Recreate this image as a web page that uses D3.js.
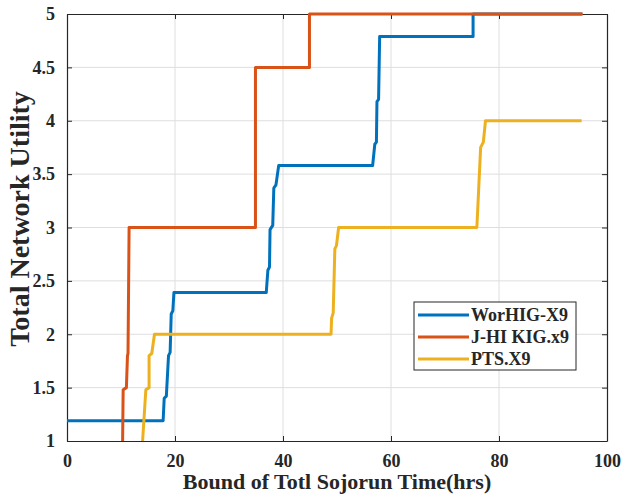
<!DOCTYPE html>
<html>
<head>
<meta charset="utf-8">
<script src="https://cdn.jsdelivr.net/npm/d3@7"></script>
<style>
  body { margin: 0; background: #fff; }
  svg text { font-family: "Liberation Serif", "Times New Roman", serif; font-weight: bold; fill: #262626; }
</style>
</head>
<body>
<div id="chart"></div>
<script>
var seriesNames = ["WorHIG-X9", "J-HI KIG.x9", "PTS.X9"]
var seriesColors = ["#0072BD", "#D95319", "#EDB120"]

var worX = [0, 17.8, 18.0, 18.4, 18.8, 19.1, 19.3, 19.6, 19.8, 36.9, 37.2, 37.5, 37.6, 38.1, 38.3, 38.7, 39.2, 56.6, 57.0, 57.3, 57.4, 57.7, 57.9, 75.2, 75.2, 95.4]
var worY = [1.19, 1.19, 1.4, 1.42, 1.8, 1.83, 2.19, 2.22, 2.39, 2.39, 2.6, 2.63, 2.98, 3.02, 3.37, 3.4, 3.58, 3.58, 3.78, 3.8, 4.18, 4.2, 4.79, 4.79, 5, 5]

var jhiX = [10.3, 10.4, 11.0, 11.2, 11.3, 11.5, 34.9, 34.9, 44.9, 44.9, 95.5]
var jhiY = [1, 1.48, 1.5, 1.8, 1.82, 3, 3, 4.5, 4.5, 5, 5]

var ptsX = [14.0, 14.6, 15.2, 15.2, 15.7, 16.2, 48.9, 49.0, 49.3, 49.6, 49.9, 50.3, 75.9, 76.6, 77.1, 77.5, 95.3]
var ptsY = [1, 1.48, 1.5, 1.8, 1.82, 2, 2, 2.15, 2.2, 2.8, 2.83, 3, 3, 3.75, 3.8, 4, 4]

var xTicks = [0, 20, 40, 60, 80, 100]
var yTicks = [1, 1.5, 2, 2.5, 3, 3.5, 4, 4.5, 5]

var width = 625, height = 503
var margin = {top: 14, right: 18, bottom: 62, left: 67}
var w = width - margin.left - margin.right,
    h = height - margin.top - margin.bottom

var svg = d3.select('#chart').append('svg')
    .attr('width', width)
    .attr('height', height)

var g = svg.append('g')
    .attr('transform', 'translate(' + margin.left + ',' + margin.top + ')')

var x = d3.scaleLinear().domain([0, 100]).range([0, w]),
    y = d3.scaleLinear().domain([1, 5]).range([h, 0])

// grid
g.append('g').selectAll('line').data(xTicks.slice(1, -1)).enter().append('line')
    .attr('x1', function(d) { return x(d) }).attr('x2', function(d) { return x(d) })
    .attr('y1', 0).attr('y2', h)
    .attr('stroke', '#dedede').attr('stroke-width', 1)
g.append('g').selectAll('line').data(yTicks.slice(1, -1)).enter().append('line')
    .attr('y1', function(d) { return y(d) }).attr('y2', function(d) { return y(d) })
    .attr('x1', 0).attr('x2', w)
    .attr('stroke', '#dedede').attr('stroke-width', 1)

// axes
var xAxis = d3.axisBottom(x).tickValues(xTicks).tickSizeInner(-5).tickSizeOuter(0).tickPadding(13)
var yAxis = d3.axisLeft(y).tickValues(yTicks).tickSizeInner(-5).tickSizeOuter(0).tickPadding(12)
    .tickFormat(d3.format('~g'))

var gx = g.append('g').attr('transform', 'translate(0,' + h + ')').call(xAxis)
var gy = g.append('g').call(yAxis)
var gx2 = g.append('g').call(d3.axisTop(x).tickValues(xTicks).tickSizeInner(-5).tickSizeOuter(0).tickFormat(''))
var gy2 = g.append('g').attr('transform', 'translate(' + w + ',0)')
    .call(d3.axisRight(y).tickValues(yTicks).tickSizeInner(-5).tickSizeOuter(0).tickFormat(''))

;[gx, gy, gx2, gy2].forEach(function(a) {
  a.select('.domain').attr('stroke', '#262626').attr('stroke-width', 1.2)
  a.selectAll('.tick line').attr('stroke', '#262626')
  a.selectAll('text').style('font-size', '18px')
})

// lines
var line = d3.line()
    .x(function(d) { return x(d[0]) })
    .y(function(d) { return y(d[1]) })

var series = [d3.zip(worX, worY), d3.zip(jhiX, jhiY), d3.zip(ptsX, ptsY)]

g.append('g').selectAll('path').data(series).enter().append('path')
    .attr('d', line)
    .attr('fill', 'none')
    .attr('stroke', function(d, i) { return seriesColors[i] })
    .attr('stroke-width', 3)
    .attr('stroke-linejoin', 'round')

// labels
svg.append('text')
    .attr('x', 337)
    .attr('y', 489)
    .attr('text-anchor', 'middle')
    .style('font-size', '22px')
    .text('Bound of Totl Sojorun Time(hrs)')

svg.append('text')
    .attr('transform', 'translate(29,219) rotate(-90)')
    .attr('text-anchor', 'middle')
    .style('font-size', '28px')
    .text('Total Network Utility')

// legend
var legend = svg.append('g').attr('transform', 'translate(414,302)')
legend.append('rect')
    .attr('width', 162).attr('height', 68)
    .attr('fill', '#fff').attr('stroke', '#262626').attr('stroke-width', 1)

var items = legend.selectAll('g.item').data(seriesNames).enter().append('g')
    .attr('transform', function(d, i) { return 'translate(0,' + (13 + i * 22) + ')' })
items.append('line')
    .attr('x1', 4).attr('x2', 55).attr('y1', 0).attr('y2', 0)
    .attr('stroke', function(d, i) { return seriesColors[i] })
    .attr('stroke-width', 3)
items.append('text')
    .attr('x', 57).attr('dy', '0.35em')
    .style('font-size', '18px')
    .text(function(d) { return d })
</script>
</body>
</html>
